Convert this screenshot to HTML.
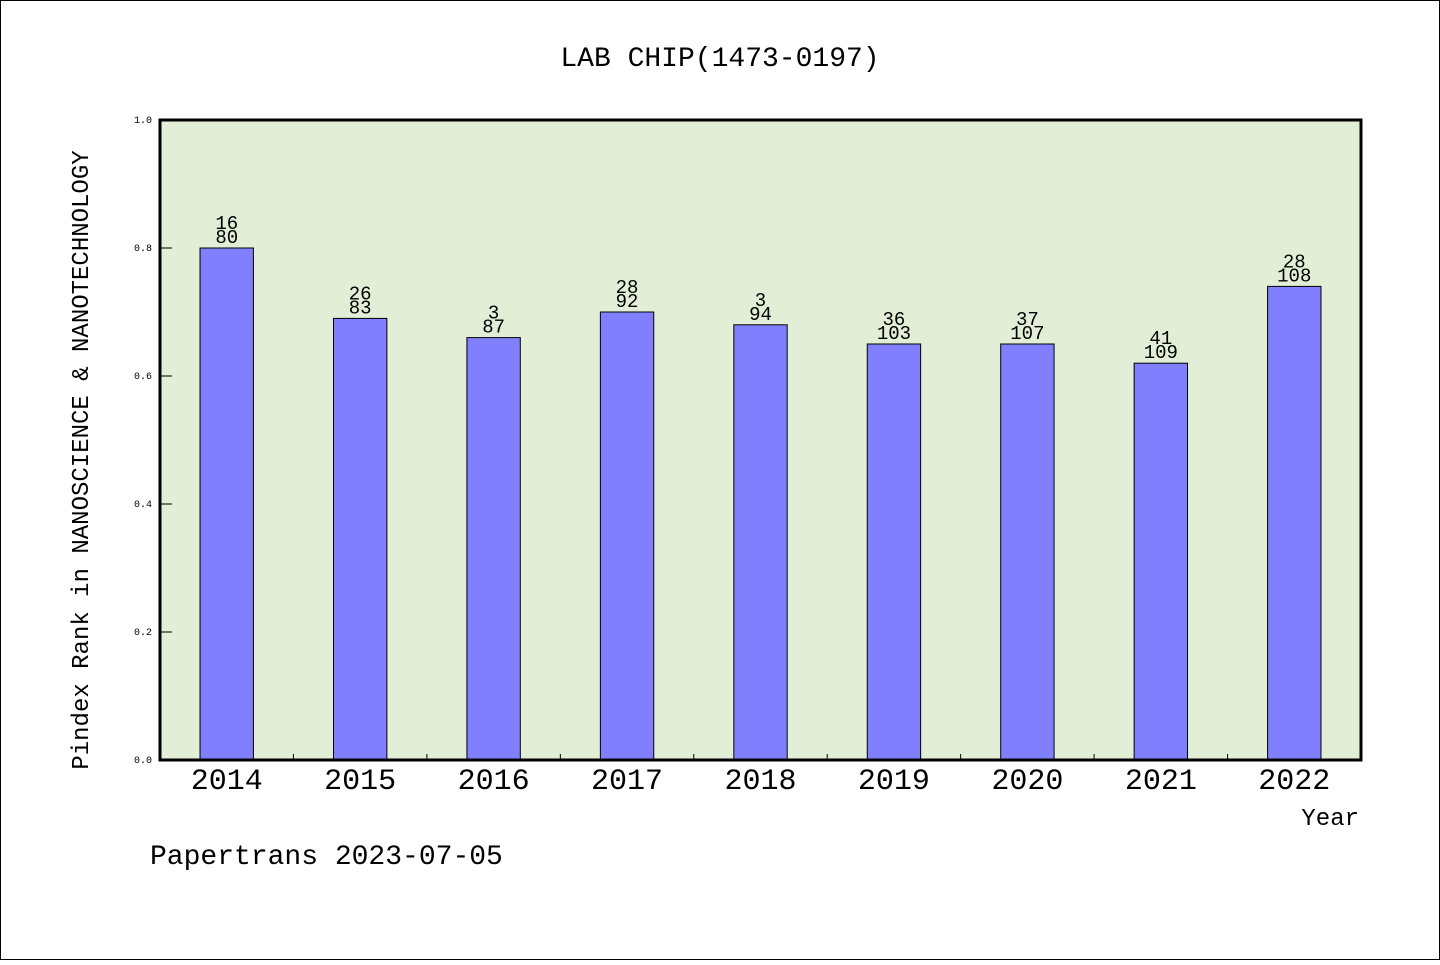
<!DOCTYPE html>
<html><head><meta charset="utf-8"><style>
body{margin:0;background:#fff}
svg text{font-family:"WenQuanYi Zen Hei","Liberation Mono",monospace}
</style></head><body>
<svg width="1440" height="960" viewBox="0 0 1440 960" xmlns="http://www.w3.org/2000/svg" id="chart">
<rect x="0.5" y="0.5" width="1439" height="959" fill="#fff" stroke="#000"/>
<text x="720" y="66" font-size="28" text-anchor="middle">LAB CHIP(1473-0197)</text>
<rect x="160" y="120" width="1201" height="640" fill="#e2efd6"/>
<g id="bars"></g>
<g id="yticks"></g>
<g id="xticks"></g>
<rect x="160" y="120" width="1201" height="640" fill="none" stroke="#000" stroke-width="3"/>
<text transform="translate(88,460) rotate(-90)" font-size="24" text-anchor="middle">Pindex Rank in NANOSCIENCE &amp; NANOTECHNOLOGY</text>
<text x="1359" y="825" font-size="24" text-anchor="end">Year</text>
<text x="150" y="864" font-size="28">Papertrans 2023-07-05</text>
</svg>
<script>
const categories=["2014","2015","2016","2017","2018","2019","2020","2021","2022"];
const values=[0.80,0.69,0.66,0.70,0.68,0.65,0.65,0.62,0.74];
const ranks=["16","26","3","28","3","36","37","41","28"];
const totals=["80","83","87","92","94","103","107","109","108"];
const yTicks=[0.0,0.2,0.4,0.6,0.8,1.0];
const NS="http://www.w3.org/2000/svg";
const x0=160,x1=1361,y0=760,y1=120;
const slot=(x1-x0)/categories.length;
const xc=i=>x0+slot*(i+0.5);
const y=v=>y0-(v/1)*(y0-y1);
function mk(tag,parent){const e=document.createElementNS(NS,tag);document.getElementById(parent).appendChild(e);return e;}
categories.forEach((c,i)=>{
  const w=slot*0.4;
  const r=mk('rect','bars');
  r.setAttribute('x',xc(i)-w/2);r.setAttribute('y',y(values[i]));
  r.setAttribute('width',w);r.setAttribute('height',y0-y(values[i]));
  r.setAttribute('fill','#8080ff');r.setAttribute('stroke','#000');
  
  
  const t1=mk('text','bars');
  t1.setAttribute('x',xc(i));t1.setAttribute('y',y(values[i])-19);
  t1.setAttribute('font-size','19');t1.setAttribute('text-anchor','middle');
  t1.textContent=ranks[i];
  
  
  const t2=mk('text','bars');
  t2.setAttribute('x',xc(i));t2.setAttribute('y',y(values[i])-5);
  t2.setAttribute('font-size','19');t2.setAttribute('text-anchor','middle');
  t2.textContent=totals[i];
  
  
  const xl=mk('text','xticks');
  xl.setAttribute('x',xc(i));xl.setAttribute('y',789);
  xl.setAttribute('font-size','30');xl.setAttribute('text-anchor','middle');
  xl.textContent=c;
  
  
  if(i>0){
    const tk=mk('line','xticks');
    tk.setAttribute('x1',x0+slot*i);tk.setAttribute('x2',x0+slot*i);
    tk.setAttribute('y1',y0);tk.setAttribute('y2',y0-6);
    tk.setAttribute('stroke','#000');
    
    
  }
});
yTicks.forEach(v=>{
  const l=mk('line','yticks');
  l.setAttribute('x1',x0);l.setAttribute('x2',x0+12);
  l.setAttribute('y1',y(v));l.setAttribute('y2',y(v));l.setAttribute('stroke','#000');
  
  
  const t=mk('text','yticks');
  t.setAttribute('x',152);t.setAttribute('y',y(v)+3);
  t.setAttribute('font-size','10');t.setAttribute('text-anchor','end');
  t.textContent=v.toFixed(1);
  
  
});
</script>
</body></html>
